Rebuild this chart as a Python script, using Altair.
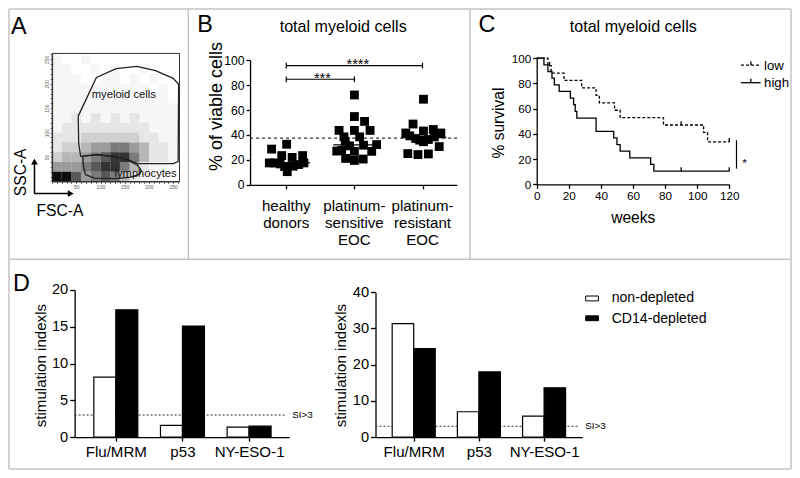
import altair as alt
import pandas as pd

W, H = 784, 462
SX, SY = W / 800.0, H / 478.0
FONT = "Liberation Sans"


def px(v):
    return round(v * SX, 2)


def py(v):
    return round(v * SY, 2)


def fs(v):
    return round(v * 0.975, 1)


# ======================= DATA =======================
# --- Panel A: flow cytometry (FSC-A x SSC-A, x1000), dot density per 20-unit bin (top row first)
A_density = [
    [1, 0, 0, 1, 0, 0, 0, 0, 0, 0, 0, 0, 0],
    [1, 1, 0, 0, 1, 0, 1, 0, 0, 1, 0, 0, 0],
    [1, 1, 1, 0, 0, 1, 1, 0, 1, 0, 1, 0, 0],
    [1, 1, 1, 1, 1, 1, 1, 1, 1, 1, 0, 1, 0],
    [1, 1, 1, 1, 1, 1, 1, 1, 1, 1, 1, 1, 0],
    [1, 1, 1, 1, 1, 1, 1, 1, 1, 1, 1, 1, 1],
    [1, 1, 2, 1, 2, 1, 2, 1, 2, 1, 1, 1, 1],
    [1, 2, 2, 2, 2, 2, 2, 2, 2, 2, 1, 1, 1],
    [2, 2, 2, 3, 3, 3, 3, 3, 3, 2, 2, 1, 1],
    [2, 3, 3, 4, 5, 5, 6, 6, 5, 4, 2, 2, 1],
    [3, 4, 4, 5, 6, 7, 8, 8, 6, 4, 2, 2, 1],
    [5, 5, 5, 6, 7, 8, 8, 6, 4, 2, 1, 1, 0],
    [9, 9, 7, 5, 6, 7, 6, 4, 2, 1, 1, 0, 0],
]
A_myeloid_x = [53.9, 91.5, 132.1, 174.8, 213.4, 250, 261.2, 260.2, 250, 176.8, 156.5, 132.1, 91.5, 58.9, 54.9]
A_myeloid_y = [133.7, 212.9, 230.7, 235.6, 226.7, 210.9, 199, 40.6, 36.6, 36.6, 44.6, 50.5, 54.5, 51.5, 78.2]
A_lymph_x = [63, 91.5, 132.1, 158.5, 176.8, 184, 180.9, 162.6, 132.1, 87.4, 69.1, 65]
A_lymph_y = [51.5, 55.4, 50.5, 42.6, 32.7, 22.8, 14.9, 8.9, 5.9, 6.9, 13.9, 28.7]
A_gate_labels = ["myeloid cells", "lymphocytes"]
A_gate_label_x = [148, 193]
A_gate_label_y = [177, 16]

# --- Panel B: % of viable cells
B_categories = ["healthy\ndonors", "platinum-\nsensitive\nEOC", "platinum-\nresistant\nEOC"]
B_healthy = [28.7, 32.6, 23.5, 22.0, 23.5, 17.6, 17.6, 16.8, 14.7, 10.6, 15.0, 16.3, 17.6]
B_healthy_jit = [-0.216, 0.005, -0.067, 0.086, 0.24, -0.249, -0.173, -0.091, -0.024, 0.014, 0.1, 0.182, 0.259]
B_sensitive = [72.1, 54.8, 50.9, 43.7, 43.7, 43.7, 38.5, 38.5, 34.9, 31.3, 31.8, 32.3, 27.1, 27.6, 26.9, 26.9, 21.2, 19.6, 20.7]
B_sensitive_jit = [0, 0, 0.149, -0.225, 0, 0.23, -0.153, 0.077, -0.134, -0.072, 0.134, 0.326, -0.259, -0.187, 0, 0.254, -0.129, 0, 0.129]
B_resistant = [68.7, 48.8, 41.6, 43.2, 44.4, 41.6, 39.3, 37.2, 35.9, 34.6, 36.4, 38.5, 30.7, 25.1, 24.3, 24.8]
B_resistant_jit = [0.014, -0.139, -0.245, 0.014, 0.158, 0.269, -0.187, -0.1, -0.043, 0.014, 0.086, 0.173, 0.245, -0.216, -0.067, 0.086]
B_medians = [17.6, 32.0, 38.0]
B_threshold = 37.5
B_bracket_from = [1, 1]
B_bracket_to = [2, 3]
B_bracket_y = [84.7, 95.6]
B_bracket_stars = ["***", "****"]
B_star_x = [1.53, 2.05]

# --- Panel C: Kaplan-Meier survival
C_low_weeks = [0, 7, 9, 17, 28, 37, 39, 48.5, 52, 79, 104, 106.5, 120]
C_low_surv = [100, 94.1, 88.2, 82.4, 76.5, 70.6, 64.7, 58.8, 52.9, 47.1, 41.2, 33.7, 33.7]
C_high_weeks = [0, 4.5, 7, 9.5, 11, 14, 21, 23, 24, 25, 37, 48, 50, 52, 58, 71, 73, 120]
C_high_surv = [100, 94.7, 89.5, 84.2, 78.9, 73.7, 68.4, 63.2, 57.9, 52.6, 42.1, 36.8, 31.6, 26.3, 21.1, 15.8, 10.5, 10.5]
C_low_censor_w = [8, 90, 120]
C_low_censor_s = [94.1, 47.1, 33.7]
C_high_censor_w = [90, 120]
C_high_censor_s = [10.5, 10.5]

# --- Panel D: stimulation indexes
D_antigens = ["Flu/MRM", "p53", "NY-ESO-1"]
D_series = ["non-depleted", "CD14-depleted"]
D1_non = [8.15, 1.6, 1.35]
D1_cd14 = [17.3, 15.1, 1.5]
D2_non = [31.3, 7.0, 5.8]
D2_cd14 = [24.4, 18.0, 13.6]
D_threshold = 3

ONE = pd.DataFrame({"a": [0]})


# ======================= HELPERS =======================
def vtext(text, x, y, size, align="left", baseline="alphabetic", angle=0, color="black"):
    return alt.Chart(pd.DataFrame({"t": [text]})).mark_text(
        align=align, baseline=baseline, angle=angle, fontSize=size, font=FONT, color=color
    ).encode(x=alt.value(x), y=alt.value(y), text="t:N")


def vrule(x1, y1, x2, y2, color="black", width=1.0, dash=None):
    kw = dict(color=color, strokeWidth=width)
    if dash:
        kw["strokeDash"] = dash
    return alt.Chart(ONE).mark_rule(**kw).encode(
        x=alt.value(x1), y=alt.value(y1), x2=alt.value(x2), y2=alt.value(y2)
    )


layers = []

# ---------------- borders & letters ----------------
BC = "#c4c4c4"
layers += [
    vrule(px(1), py(1), px(799), py(1), BC, 1.5),
    vrule(px(1), py(477), px(799), py(477), BC, 1.5),
    vrule(px(1), py(1), px(1), py(477), BC, 1.5),
    vrule(px(799), py(1), px(799), py(477), BC, 1.5),
    vrule(px(184), py(1), px(184), py(260), BC, 1.5),
    vrule(px(471.5), py(1), px(471.5), py(260), BC, 1.5),
    vrule(px(1), py(260), px(799), py(260), BC, 1.5),
    vtext("A", px(3), py(27), fs(24)),
    vtext("B", px(193), py(25), fs(24)),
    vtext("C", px(480), py(25), fs(24)),
    vtext("D", px(5), py(293), fs(24)),
]

# ---------------- Panel A ----------------
A_xs = alt.Scale(domain=[0, 263], range=[px(45), px(175)])
A_ys = alt.Scale(domain=[0, 262], range=[py(179.5), py(47)])
tick_vals = list(range(0, 261, 10))
A_lab = "datum.value % 50 == 0 && datum.value > 0 ? datum.label : ''"
A_xa = alt.Axis(orient="bottom", offset=py(179.5) - H, values=tick_vals, labelExpr=A_lab, tickSize=2,
                labelFontSize=5, labelPadding=1, labelColor="#555", tickColor="#555", domainColor="#333",
                domainWidth=1, tickWidth=0.8, title=None)
A_ya = alt.Axis(orient="left", offset=-px(45), values=tick_vals, labelExpr=A_lab, tickSize=2,
                labelFontSize=5, labelPadding=1, labelAngle=270, labelColor="#555", tickColor="#555",
                domainColor="#333", domainWidth=1, tickWidth=0.8, title=None)
dens_rows = []
for i, r in enumerate(A_density):
    for j, d in enumerate(r):
        if d > 0:
            y0 = (len(A_density) - 1 - i) * 20
            dens_rows.append(dict(x0=j * 20, x1=j * 20 + 20, y0=y0, y1=y0 + 20, d=d))
dens_df = pd.DataFrame(dens_rows)
A_dens = alt.Chart(dens_df).mark_rect(color="black", strokeWidth=0).encode(
    x=alt.X("x0:Q", scale=A_xs, axis=A_xa), x2="x1:Q",
    y=alt.Y("y0:Q", scale=A_ys, axis=A_ya), y2="y1:Q",
    opacity=alt.Opacity("d:Q", scale=alt.Scale(type="pow", exponent=1.5, domain=[0, 9], range=[0, 0.95]),
                        legend=None),
)
A_frame = alt.Chart(pd.DataFrame({"x0": [0], "x1": [263], "y0": [0], "y1": [262]})).mark_rect(
    fillOpacity=0, stroke="#333", strokeWidth=1
).encode(x=alt.X("x0:Q", scale=A_xs, axis=A_xa), x2="x1:Q",
         y=alt.Y("y0:Q", scale=A_ys, axis=A_ya), y2="y1:Q")
gate_rows = []
for name, xs, ys in [("myeloid", A_myeloid_x, A_myeloid_y), ("lymph", A_lymph_x, A_lymph_y)]:
    for k, (gx, gy) in enumerate(list(zip(xs, ys)) + [(xs[0], ys[0])]):
        gate_rows.append(dict(gate=name, i=k, x=gx, y=gy))
A_gates = alt.Chart(pd.DataFrame(gate_rows)).mark_line(color="#222", strokeWidth=1.3).encode(
    x=alt.X("x:Q", scale=A_xs, axis=A_xa), y=alt.Y("y:Q", scale=A_ys, axis=A_ya),
    detail="gate:N", order="i:Q")
A_glab = alt.Chart(pd.DataFrame({"t": A_gate_labels, "x": A_gate_label_x, "y": A_gate_label_y})).mark_text(
    fontSize=fs(11.5), font=FONT, color="#111", baseline="middle"
).encode(x=alt.X("x:Q", scale=A_xs, axis=A_xa), y=alt.Y("y:Q", scale=A_ys, axis=A_ya), text="t:N")
layers.append(alt.layer(A_dens, A_frame, A_gates, A_glab))

layers += [
    vtext("SSC-A", px(18.5), py(170), fs(16), align="center", angle=270),
    vtext("FSC-A", px(53), py(215), fs(16), align="center"),
    vrule(px(27), py(192), px(27), py(161), "black", 1.5),
    vrule(px(27), py(192), px(62), py(192), "black", 1.5),
    alt.Chart(ONE).mark_point(shape="triangle-up", filled=True, size=45, color="black", opacity=1).encode(
        x=alt.value(px(27)), y=alt.value(py(159))),
    alt.Chart(ONE).mark_point(shape="triangle-right", filled=True, size=45, color="black", opacity=1).encode(
        x=alt.value(px(64)), y=alt.value(py(192))),
]

# ---------------- Panel B ----------------
B_xs = alt.Scale(domain=[0.468, 3.504], range=[px(247), px(458)])
B_ys = alt.Scale(domain=[0, 100], range=[py(183), py(54)])
B_xa = alt.Axis(orient="bottom", offset=py(183) - H, values=[1, 2, 3], labels=False, tickSize=4, title=None)
B_ya = alt.Axis(orient="left", offset=-px(247), values=[0, 20, 40, 60, 80, 100], tickSize=4,
                labelFontSize=fs(12.5), labelPadding=2, title=None)
pts = []
for idx, (vals, jit) in enumerate([(B_healthy, B_healthy_jit), (B_sensitive, B_sensitive_jit),
                                   (B_resistant, B_resistant_jit)], start=1):
    for v, j in zip(vals, jit):
        pts.append(dict(x=idx + j, y=v))
B_pts = alt.Chart(pd.DataFrame(pts)).mark_square(size=78, color="black", opacity=1).encode(
    x=alt.X("x:Q", scale=B_xs, axis=B_xa), y=alt.Y("y:Q", scale=B_ys, axis=B_ya))
med_df = pd.DataFrame({"x0": [i + 1 - 0.31 for i in range(3)], "x1": [i + 1 + 0.35 for i in range(3)],
                       "y": B_medians})
B_med = alt.Chart(med_df).mark_rule(color="black", strokeWidth=1.3).encode(
    x=alt.X("x0:Q", scale=B_xs, axis=B_xa), x2="x1:Q", y=alt.Y("y:Q", scale=B_ys, axis=B_ya))
B_thr = alt.Chart(pd.DataFrame({"y": [B_threshold]})).mark_rule(
    color="#333", strokeWidth=1.2, strokeDash=[3, 3]
).encode(x=alt.value(px(247)), x2=alt.value(px(459)), y=alt.Y("y:Q", scale=B_ys, axis=B_ya))
br_df = pd.DataFrame({"x0": B_bracket_from, "x1": B_bracket_to, "y": B_bracket_y})
B_br = alt.Chart(br_df).mark_rule(color="black", strokeWidth=1.2).encode(
    x=alt.X("x0:Q", scale=B_xs, axis=B_xa), x2="x1:Q", y=alt.Y("y:Q", scale=B_ys, axis=B_ya))
cap_rows = []
for a, b, yy in zip(B_bracket_from, B_bracket_to, B_bracket_y):
    for xx in (a, b):
        cap_rows.append(dict(x=xx, y0=yy - 2.3, y1=yy + 2.3))
B_caps = alt.Chart(pd.DataFrame(cap_rows)).mark_rule(color="black", strokeWidth=1.2).encode(
    x=alt.X("x:Q", scale=B_xs, axis=B_xa), y=alt.Y("y0:Q", scale=B_ys, axis=B_ya), y2="y1:Q")
B_stars = alt.Chart(pd.DataFrame({"x": B_star_x, "y": B_bracket_y, "t": B_bracket_stars})).mark_text(
    fontSize=fs(15), font=FONT, dy=py(3.5), baseline="alphabetic"
).encode(x=alt.X("x:Q", scale=B_xs, axis=B_xa), y=alt.Y("y:Q", scale=B_ys, axis=B_ya), text="t:N")
B_cat = alt.Chart(pd.DataFrame({"x": [1, 2, 3], "t": B_categories})).mark_text(
    fontSize=fs(15.5), font=FONT, lineBreak="\n", lineHeight=py(17.4), baseline="alphabetic", align="center"
).encode(x=alt.X("x:Q", scale=B_xs, axis=B_xa), y=alt.value(py(210)), text="t:N")
layers.append(alt.layer(B_thr, B_med, B_pts, B_br, B_caps, B_stars, B_cat))
layers += [
    vtext("total myeloid cells", px(342), py(25), fs(16.5), align="center"),
    vtext("% of viable cells", px(218), py(102), fs(18.5), align="center", angle=270),
]

# ---------------- Panel C ----------------
C_xs = alt.Scale(domain=[0, 120], range=[px(539.5), px(736)])
C_ys = alt.Scale(domain=[0, 100], range=[py(182.5), py(52)])
C_xa = alt.Axis(orient="bottom", offset=py(182.5) - H, values=[0, 20, 40, 60, 80, 100, 120], tickSize=4,
                labelFontSize=fs(12), labelPadding=2, title=None)
C_ya = alt.Axis(orient="left", offset=-px(539.5), values=[0, 20, 40, 60, 80, 100], tickSize=4,
                labelFontSize=fs(12), labelPadding=2, title=None)
low_df = pd.DataFrame({"w": C_low_weeks, "s": C_low_surv})
high_df = pd.DataFrame({"w": C_high_weeks, "s": C_high_surv})
C_high = alt.Chart(high_df).mark_line(interpolate="step-after", color="black", strokeWidth=1.3).encode(
    x=alt.X("w:Q", scale=C_xs, axis=C_xa), y=alt.Y("s:Q", scale=C_ys, axis=C_ya))
C_low = alt.Chart(low_df).mark_line(interpolate="step-after", color="black", strokeWidth=1.3,
                                    strokeDash=[3, 2]).encode(
    x=alt.X("w:Q", scale=C_xs, axis=C_xa), y=alt.Y("s:Q", scale=C_ys, axis=C_ya))
cens = pd.DataFrame({"w": C_low_censor_w + C_high_censor_w, "s": C_low_censor_s + C_high_censor_s})
cens["top"] = cens["s"] + 3
C_cens = alt.Chart(cens).mark_rule(color="black", strokeWidth=1.3).encode(
    x=alt.X("w:Q", scale=C_xs, axis=C_xa), y=alt.Y("s:Q", scale=C_ys, axis=C_ya), y2="top:Q")
sig = pd.DataFrame({"w": [124.5], "s0": [12.5], "s1": [35]})
C_sig = alt.Chart(sig).mark_rule(color="black", strokeWidth=1.2).encode(
    x=alt.X("w:Q", scale=C_xs, axis=C_xa), y=alt.Y("s0:Q", scale=C_ys, axis=C_ya), y2="s1:Q")
C_star = alt.Chart(pd.DataFrame({"w": [129.5], "s": [17], "t": ["*"]})).mark_text(
    fontSize=fs(12), font=FONT).encode(
    x=alt.X("w:Q", scale=C_xs, axis=C_xa), y=alt.Y("s:Q", scale=C_ys, axis=C_ya), text="t:N")
layers.append(alt.layer(C_high, C_low, C_cens, C_sig, C_star))
layers += [
    vtext("total myeloid cells", px(638), py(25), fs(16.5), align="center"),
    vtext("% survival", px(506), py(119), fs(16), align="center", angle=270),
    vtext("weeks", px(638), py(222), fs(16), align="center"),
    vrule(px(748), py(59), px(768), py(59), "black", 1.3, [3, 2]),
    vrule(px(758), py(55), px(758), py(59), "black", 1.3),
    vrule(px(748), py(77.3), px(768), py(77.3), "black", 1.3),
    vrule(px(758), py(73.3), px(758), py(77.3), "black", 1.3),
    vtext("low", px(771.5), py(64.5), fs(13.5)),
    vtext("high", px(771.5), py(81.5), fs(13.5)),
]


# ---------------- Panel D ----------------
def bar_panel(non, cd14, x_dom, x_rng, y_dom, y_rng, y_vals, thr_x1, si_x):
    xs = alt.Scale(domain=x_dom, range=x_rng)
    ys = alt.Scale(domain=y_dom, range=y_rng)
    zero_y = y_rng[0]
    xa = alt.Axis(orient="bottom", offset=zero_y - H, values=[1, 2, 3],
                  labelExpr="['Flu/MRM','p53','NY-ESO-1'][datum.value - 1]",
                  tickSize=4, labelFontSize=fs(15.5), labelPadding=3, title=None)
    ya = alt.Axis(orient="left", offset=-x_rng[0], values=y_vals, tickSize=5,
                  labelFontSize=fs(15), labelPadding=2, title=None)
    rows = []
    for i, (a, b) in enumerate(zip(non, cd14), start=1):
        rows.append(dict(x0=i - 0.33, x1=i, v=a, s=D_series[0]))
        rows.append(dict(x0=i, x1=i + 0.33, v=b, s=D_series[1]))
    df = pd.DataFrame(rows)
    bars = alt.Chart(df).mark_rect(stroke="black", strokeWidth=1.2).encode(
        x=alt.X("x0:Q", scale=xs, axis=xa), x2="x1:Q",
        y=alt.Y("v:Q", scale=ys, axis=ya), y2=alt.datum(0),
        fill=alt.Fill("s:N", scale=alt.Scale(domain=D_series, range=["white", "black"]), legend=None),
    )
    thr = alt.Chart(pd.DataFrame({"y": [D_threshold]})).mark_rule(
        color="#333", strokeWidth=1, strokeDash=[2, 2]
    ).encode(x=alt.value(x_rng[0]), x2=alt.value(thr_x1), y=alt.Y("y:Q", scale=ys, axis=ya))
    si = alt.Chart(pd.DataFrame({"y": [D_threshold], "t": ["SI>3"]})).mark_text(
        fontSize=fs(10), font=FONT, align="left", baseline="middle"
    ).encode(x=alt.value(si_x), y=alt.Y("y:Q", scale=ys, axis=ya), text="t:N")
    return alt.layer(thr, bars, si)


layers.append(bar_panel(D1_non, D1_cd14, [0.382, 3.603], [px(68), px(287)], [0, 20], [py(444), py(291.7)],
                        [0, 5, 10, 15, 20], px(283), px(290)))
layers.append(bar_panel(D2_non, D2_cd14, [0.414, 3.586], [px(375), px(586)], [0, 40], [py(444), py(294)],
                        [0, 10, 20, 30, 40], px(583), px(589)))
layers += [
    vtext("stimulation indexls", px(38.5), py(370), fs(15.5), align="center", angle=270),
    vtext("stimulation indexls", px(345), py(370), fs(15.5), align="center", angle=270),
    alt.Chart(ONE).mark_rect(fill="white", stroke="black", strokeWidth=1).encode(
        x=alt.value(px(589.5)), x2=alt.value(px(602.5)), y=alt.value(py(298)), y2=alt.value(py(303))),
    alt.Chart(ONE).mark_rect(fill="black", stroke="black", strokeWidth=1).encode(
        x=alt.value(px(589.5)), x2=alt.value(px(602.5)), y=alt.value(py(318.5)), y2=alt.value(py(323.5))),
    vtext("non-depleted", px(616), py(304), fs(14.5)),
    vtext("CD14-depleted", px(616), py(326), fs(14.5)),
]

chart = alt.layer(*layers).resolve_scale(
    x="independent", y="independent"
).properties(
    width=W, height=H, padding=0, autosize=alt.AutoSizeParams(type="none")
).configure_view(stroke=None).configure_axis(
    grid=False, labelFont=FONT, titleFont=FONT, labelColor="black", domainColor="black", tickColor="black",
    domainWidth=1.3, tickWidth=1.3, labelFlush=False, labelOverlap=False
)

chart.save("out.html", embed_options={"renderer": "svg", "actions": False})
